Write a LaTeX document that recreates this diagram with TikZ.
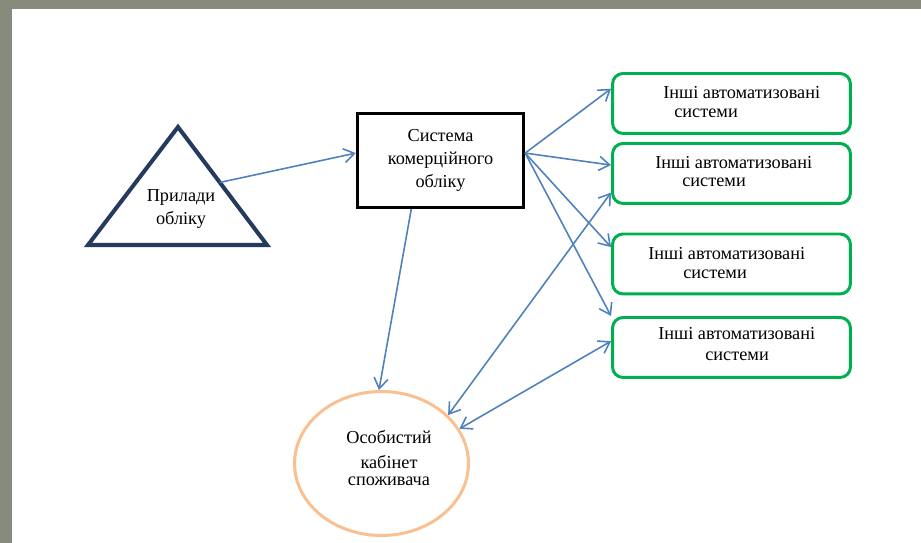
\documentclass[tikz,border=0pt]{standalone}
\usepackage{fontspec}
\setmainfont{Liberation Serif}
\usetikzlibrary{arrows.meta, calc, shapes.geometric}
\definecolor{linkblue}{HTML}{4F81BD}
\definecolor{devnavy}{HTML}{243B5E}
\definecolor{extgreen}{HTML}{00B050}
\definecolor{cabpeach}{HTML}{FAC090}
\definecolor{slidegrey}{HTML}{878B7B}

\begin{document}
\begin{tikzpicture}[x=0.02cm, y=-0.02cm,
    >={Straight Barb[length=6pt,width=8pt]},
    txt/.style={font=\fontsize{10.4}{13}\selectfont, inner sep=0pt},
    exttxt/.style={font=\fontsize{10.4}{10.3}\selectfont, inner sep=0pt, align=left, anchor=west},
    link/.style={linkblue, line width=0.9pt},
    sysbox/.style={draw=black, line width=1.9pt, minimum width=3.32cm, minimum height=1.88cm},
    extbox/.style={draw=extgreen, line width=1.7pt, rounded corners=6pt, minimum width=4.76cm, minimum height=1.2cm},
    cabshape/.style={ellipse, draw=cabpeach, line width=1.7pt, inner sep=0pt, minimum width=3.48cm, minimum height=2.88cm}]
  \useasboundingbox (0,0) rectangle (921,543);
  \fill[slidegrey] (0,0) rectangle (921,543);
  \fill[white] (12,9) rectangle (921,543);

  % triangle
  \coordinate (dev-top) at (178,127);
  \coordinate (dev-bl) at (88,245);
  \coordinate (dev-br) at (267,245);
  \draw[devnavy, line width=2.3pt] (dev-top) -- (dev-br) -- (dev-bl) -- cycle;
  \coordinate (dev-out) at ($(dev-top)!.47!(dev-br)$);
  \node[txt, align=center] (dev-txt) at (181,209) {Прилади\\обліку};

  \node[sysbox, txt, align=center] (sys) at (440.5,160.5) {Система\\комерційного\\обліку};

  \node[extbox] (ext1) at (731.5,103.5) {};
  \node[extbox] (ext2) at (731.5,173.5) {};
  \node[extbox] (ext3) at (731.5,264) {};
  \node[extbox] (ext4) at (731.5,347.5) {};
  \node[exttxt] (ext1-txt) at (663,102) {Інші автоматизовані\\\hspace*{.22cm}системи};
  \node[exttxt] (ext2-txt) at (655,171.5) {Інші автоматизовані\\[-0.4pt]\hspace*{.54cm}системи};
  \node[exttxt] (ext3-txt) at (648,263) {Інші автоматизовані\\[1pt]\hspace*{.7cm}системи};
  \node[exttxt] (ext4-txt) at (658,344) {Інші автоматизовані\\[2pt]\hspace*{.94cm}системи};

  \node[cabshape] (cab) at (381.5,463.5) {};
  \node[txt, align=center, font=\fontsize{10.4}{10.4}\selectfont] (cab-txt) at (389,458)
    {Особистий\\[3.4pt]кабінет\\[-0.8pt]споживача};

  % connectors
  \draw[link, ->] (dev-out) -- (sys.175);
  \draw[link, ->] (sys.5) -- (ext1.173);
  \draw[link, ->] (sys.5) -- (ext2.176);
  \draw[link, ->] (sys.5) -- (ext3.172);
  \draw[link, ->] (sys.5) -- (ext4.north west);
  \draw[link, ->] (sys.239) -- (cab.92);
  \draw[link, <->] (cab.36) -- (ext2.189);
  \draw[link, <->] (cab.24) -- (ext4.177);
\end{tikzpicture}
\end{document}
